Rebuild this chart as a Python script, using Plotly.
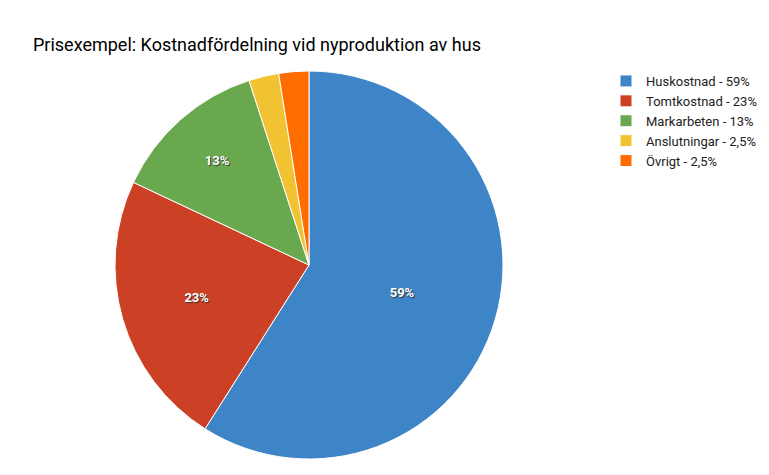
import plotly.graph_objects as go

labels = ["Huskostnad - 59%", "Tomtkostnad - 23%", "Markarbeten - 13%", "Anslutningar - 2,5%", "Övrigt - 2,5%"]
values = [59, 23, 13, 2.5, 2.5]
texts = ["59%", "23%", "13%", "", ""]
colors = ["#3d85c6", "#cc4125", "#6aa84f", "#f1c232", "#ff6d01"]

W, H = 769, 475
fig = go.Figure(go.Pie(
    labels=labels, values=values, text=texts, textinfo="text",
    textposition="inside", insidetextorientation="horizontal",
    sort=False, direction="clockwise", rotation=0,
    marker=dict(colors=colors, line=dict(color="white", width=1)),
    textfont=dict(family="Roboto", size=13, color="white", weight="bold",
                  shadow="1px 1px 1px #333"),
    domain=dict(x=[107/W, 495/W], y=[24/H, 412/H]),
    hoverinfo="label",
))
fig.update_layout(
    width=W, height=H, paper_bgcolor="white", plot_bgcolor="white",
    margin=dict(l=0, r=0, t=0, b=0),
    title=dict(text="Prisexempel: Kostnadfördelning vid nyproduktion av hus",
               x=25/W, xanchor="left", y=1-37/H, yanchor="middle",
               font=dict(family="Roboto", size=18, color="#000")),
    legend=dict(x=598/W, xanchor="left", y=1-58/H, yanchor="top",
                font=dict(family="Roboto", size=13, color="#222"),
                tracegroupgap=0, itemwidth=30),
    font=dict(family="Roboto"),
)
fig.write_html("out.html")
